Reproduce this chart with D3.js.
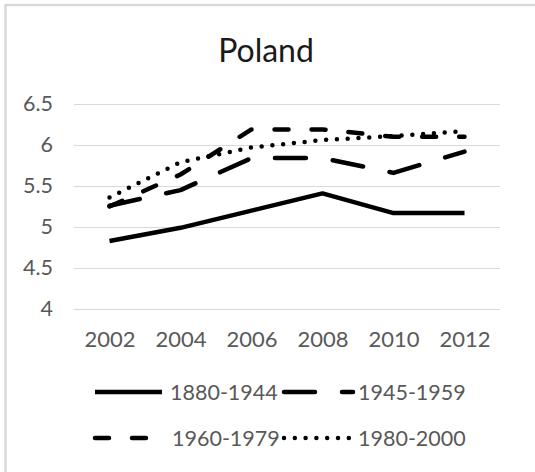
<!DOCTYPE html>
<html>
<head>
<meta charset="utf-8">
<script src="https://cdn.jsdelivr.net/npm/d3@7"></script>
<style>
  html, body { margin: 0; padding: 0; background: #fff; }
  svg { display: block; }
  text { font-family: "Lato", "Liberation Sans", sans-serif; }
</style>
</head>
<body>
<div id="chart"></div>
<script>
// ---- data ----
const title = "Poland";
const years = ["2002", "2004", "2006", "2008", "2010", "2012"];
const seriesNames = ["1880-1944", "1945-1959", "1960-1979", "1980-2000"];
const s1880 = [4.83, 4.99, 5.20, 5.41, 5.17, 5.17];
const s1945 = [5.26, 5.45, 5.84, 5.84, 5.66, 5.92];
const s1960 = [5.25, 5.64, 6.19, 6.19, 6.10, 6.10];
const s1980 = [5.36, 5.79, 5.97, 6.06, 6.11, 6.17];
const yTicks = [4, 4.5, 5, 5.5, 6, 6.5];
const yTickLabels = ["4", "4.5", "5", "5.5", "6", "6.5"];

const W = 535, H = 472;
const series = [
  { name: seriesNames[0], values: s1880, dash: null },
  { name: seriesNames[1], values: s1945, dash: "31,27" },
  { name: seriesNames[2], values: s1960, dash: "14,23" },
  { name: seriesNames[3], values: s1980, dash: "0,10.8" }
];

const svg = d3.select("#chart").append("svg").attr("width", W).attr("height", H);
svg.append("rect").attr("width", W).attr("height", H).attr("fill", "#fff");

// outer frame (only top/left visible in reference)
svg.append("rect")
  .attr("x", 5.5).attr("y", 5).attr("width", W + 20).attr("height", H + 20)
  .attr("fill", "none").attr("stroke", "#d9d9d9").attr("stroke-width", 2.5);

const x = d3.scalePoint().domain(years).range([74, 500]).padding(0.5);
const y = d3.scaleLinear().domain([4, 6.5]).range([309, 104]);

// title
svg.append("text").attr("x", 266).attr("y", 62).attr("text-anchor", "middle")
  .attr("font-size", 32).attr("fill", "#1a1a1a").text(title);

// gridlines + y axis
const yAxis = d3.axisLeft(y).tickValues(yTicks)
  .tickFormat((d, i) => yTickLabels[i]).tickSize(-(500 - 74)).tickPadding(21);
const gy = svg.append("g").attr("transform", "translate(74,0)").call(yAxis);
gy.select(".domain").remove();
gy.selectAll(".tick line").attr("stroke", "#d9d9d9").attr("stroke-width", 1);
gy.selectAll(".tick text").attr("font-size", 21.5).attr("fill", "#595959")
  .attr("font-family", "Lato, 'Liberation Sans', sans-serif");

// x axis labels
const xAxis = d3.axisBottom(x).tickSize(0).tickPadding(22);
const gx = svg.append("g").attr("transform", "translate(0,309)").call(xAxis);
gx.select(".domain").remove();
gx.selectAll(".tick text").attr("font-size", 22).attr("fill", "#595959")
  .attr("font-family", "Lato, 'Liberation Sans', sans-serif");

// lines
const line = d3.line().x((d, i) => x(years[i])).y(d => y(d));
series.forEach(s => {
  svg.append("path").datum(s.values)
    .attr("d", line)
    .attr("fill", "none").attr("stroke", "#000").attr("stroke-width", 4.5)
    .attr("stroke-linecap", s.dash ? "round" : "butt")
    .attr("stroke-linejoin", "round")
    .attr("stroke-dasharray", s.dash);
});

// legend
const legendPos = [
  { x0: 95, x1: 162, y: 392, tx: 170 },
  { x0: 284, x1: 353, y: 392, tx: 358 },
  { x0: 95, x1: 148, y: 438, tx: 172 },
  { x0: 284, x1: 350, y: 438, tx: 358 }
];
series.forEach((s, i) => {
  const p = legendPos[i];
  svg.append("path")
    .attr("d", d3.line()([[p.x0, p.y], [p.x1, p.y]]))
    .attr("stroke", "#000").attr("stroke-width", 4.5).attr("fill", "none")
    .attr("stroke-linecap", s.dash ? "round" : "butt")
    .attr("stroke-dasharray", s.dash);
  svg.append("text").attr("x", p.tx).attr("y", p.y).attr("dy", "0.36em")
    .attr("font-size", 21.5).attr("fill", "#595959").text(s.name);
});
</script>
</body>
</html>
